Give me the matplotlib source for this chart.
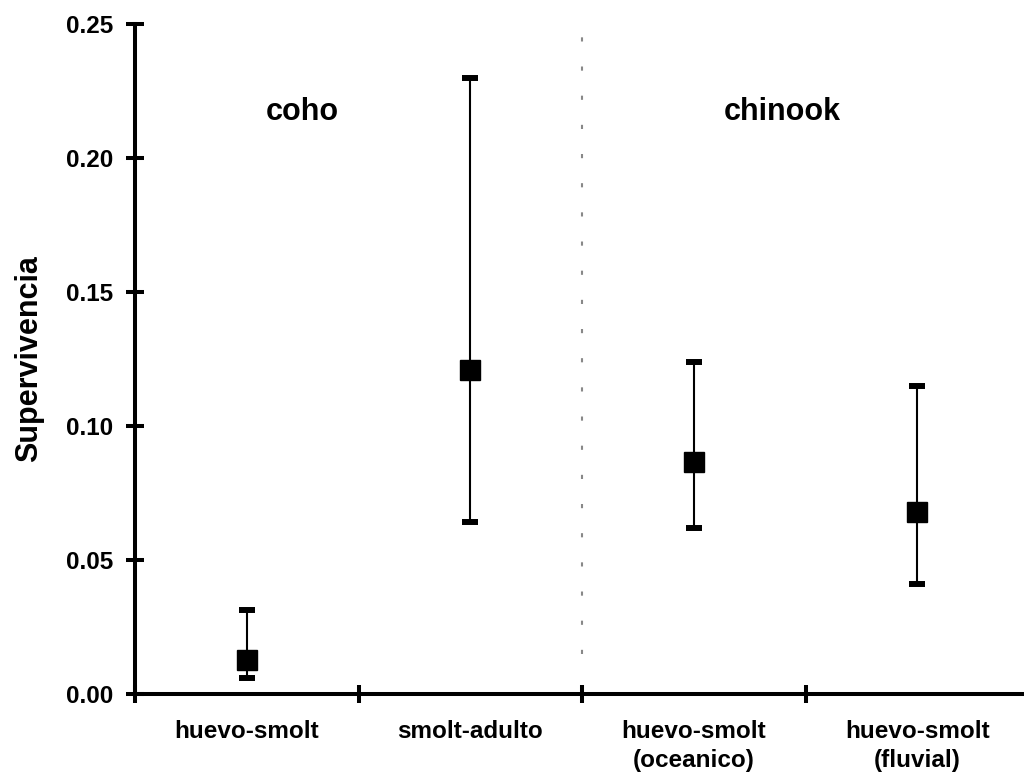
import matplotlib.pyplot as plt

plt.rcParams['font.family'] = ['Liberation Sans', 'DejaVu Sans']
plt.rcParams['font.weight'] = 'bold'

categories = ['huevo-smolt', 'smolt-adulto', 'huevo-smolt\n(oceanico)', 'huevo-smolt\n(fluvial)']
survival = [0.0127, 0.1209, 0.0866, 0.0679]
upper = [0.0313, 0.2299, 0.1239, 0.1149]
lower = [0.0060, 0.0642, 0.0619, 0.0410]
yticks = [0.00, 0.05, 0.10, 0.15, 0.20, 0.25]

fig = plt.figure(figsize=(10.24, 7.8), dpi=100)
ax = fig.add_axes([135 / 1024, 1 - 694 / 780, 894 / 1024, 670 / 780])

xs = list(range(1, len(categories) + 1))
err = [[s - l for s, l in zip(survival, lower)],
       [u - s for s, u in zip(survival, upper)]]
ax.errorbar(xs, survival, yerr=err, fmt='s', color='black', ms=14,
            elinewidth=1.5, capsize=5.8, capthick=4.3, clip_on=False, zorder=3)

# divider between species
ax.plot([2.5, 2.5], [0.015, 0.2537], ls=(0, (2, 12)), lw=1.5, color='#888888',
        clip_on=False, zorder=1)

ax.text(1.25, 0.214, 'coho', ha='center', va='baseline', fontsize=22, fontweight='bold')
ax.text(3.395, 0.214, 'chinook', ha='center', va='baseline', fontsize=22, fontweight='bold')

ax.set_xlim(0.5, 4.5)
ax.set_ylim(0, 0.25)
ax.set_yticks(yticks)
ax.set_yticklabels([f'{t:.2f}' for t in yticks])
ax.set_xticks([0.5, 1.5, 2.5, 3.5, 4.5])
ax.set_xticklabels([])
ax.set_xticks(xs, minor=True)
ax.set_xticklabels(categories, minor=True, linespacing=1.3)

for s in ['top', 'right']:
    ax.spines[s].set_visible(False)
for s in ['left', 'bottom']:
    ax.spines[s].set_linewidth(2.9)

ax.tick_params(axis='y', direction='inout', length=13, width=2.9, labelsize=17.5, pad=9)
ax.tick_params(axis='x', which='major', direction='inout', length=13, width=2.9)
ax.tick_params(axis='x', which='minor', length=0, labelsize=17.5, pad=19)

ax.set_ylabel('Supervivencia', fontsize=22, fontweight='bold', labelpad=16)

fig.savefig('out.png', dpi=100)
